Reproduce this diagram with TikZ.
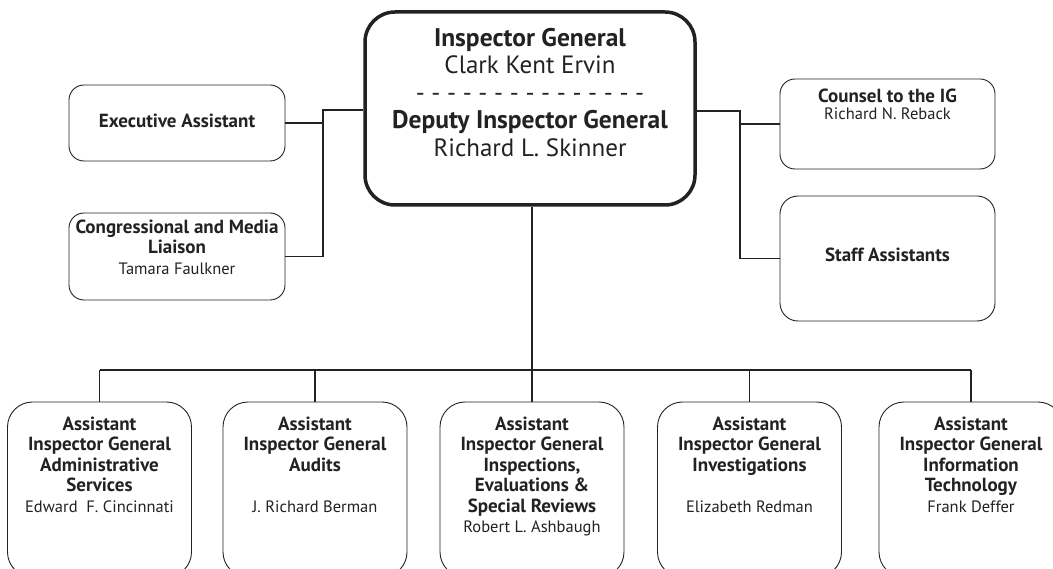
\documentclass[tikz,border=0pt]{standalone}
\usepackage{fontspec}
\setmainfont{PT Sans}
\definecolor{ink}{HTML}{222222}
\newcommand{\nm}[1]{{\fontsize{16.5}{20.5}\selectfont #1}}
\begin{document}
\begin{tikzpicture}[x=1pt,y=-1pt,
  box/.style={draw=ink, line width=0.9pt, rounded corners=15pt, inner sep=0pt},
  lowbox/.style={box, rounded corners=25pt, minimum width=184pt, minimum height=175pt},
  conn/.style={draw=ink, line width=1.6pt},
  txt/.style={inner sep=0pt, align=center, text=ink, anchor=north},
  bigtxt/.style={txt, font=\fontsize{25}{27.5}\selectfont},
  midtxt/.style={txt, font=\fontsize{19}{20.5}\selectfont},
  nametxt/.style={txt, font=\fontsize{16.5}{20.5}\selectfont},
]
\useasboundingbox (0,0) rectangle (1053,569);
\clip (0,0) rectangle (1053,569);
\fill[white] (0,0) rectangle (1053,569);

% main box
\node[box, line width=3.5pt, rounded corners=30pt, minimum width=330pt, minimum height=193pt] (main) at (530,108.5) {};
\node[bigtxt] (maintxt) at (530,27.8) {{\fontsize{25.5}{27.5}\selectfont\bfseries Inspector General}\\Clark Kent Ervin\\- - - - - - - - - - - - - - -\\{\fontsize{25.5}{27.5}\selectfont\bfseries Deputy Inspector General}\\Richard L. Skinner};

% left boxes
\node[box, minimum width=216pt, minimum height=76pt] (exec) at (177,123) {};
\node[midtxt] (exectxt) at (177,113.3) {\textbf{Executive Assistant}};
\node[box, minimum width=216pt, minimum height=87pt] (cong) at (177,256.5) {};
\node[midtxt] (congtxt) at (177,219.3) {\textbf{Congressional and Media}\\\textbf{Liaison}\\\nm{Tamara Faulkner}};

% right boxes
\node[box, minimum width=215pt, minimum height=90pt] (couns) at (887.5,124) {};
\node[midtxt] (counstxt) at (887.5,88.3) {\textbf{Counsel to the IG}};
\node[nametxt] (counsname) at (887.5,107.1) {Richard N. Reback};
\node[box, rounded corners=18pt, minimum width=215pt, minimum height=125pt] (staff) at (887.5,258.5) {};
\node[midtxt] (stafftxt) at (887.5,247.3) {\textbf{Staff Assistants}};

% bottom boxes
\node[lowbox] (b1) at (99.5,489.5) {};
\node[lowbox] (b2) at (315,489.5) {};
\node[lowbox] (b3) at (532,489.5) {};
\node[lowbox] (b4) at (749.5,489.5) {};
\node[lowbox] (b5) at (971,489.5) {};
\node[midtxt] (b1txt) at (99.5,416.3) {\textbf{Assistant}\\\textbf{Inspector General}\\\textbf{Administrative}\\\textbf{Services}\\\nm{Edward\ \ F. Cincinnati}};
\node[midtxt] (b2txt) at (315,416.3) {\textbf{Assistant}\\\textbf{Inspector General}\\\textbf{Audits}\\[20.5pt]\nm{J. Richard Berman}};
\node[midtxt] (b3txt) at (532,416.3) {\textbf{Assistant}\\\textbf{Inspector General}\\\textbf{Inspections,}\\\textbf{Evaluations \&}\\\textbf{Special Reviews}\\\nm{Robert L. Ashbaugh}};
\node[midtxt] (b4txt) at (749.5,416.3) {\textbf{Assistant}\\\textbf{Inspector General}\\\textbf{Investigations}\\[20.5pt]\nm{Elizabeth Redman}};
\node[midtxt] (b5txt) at (971,416.3) {\textbf{Assistant}\\\textbf{Inspector General}\\\textbf{Information}\\\textbf{Technology}\\\nm{Frank Deffer}};

% connectors left
\coordinate (jl) at (323,110);
\draw[conn] (main.west |- jl) -- (jl) -- (jl |- cong.east) -- (cong.east);
\draw[conn] (exec.east) -- (exec.east -| jl);
% connectors right
\coordinate (jr) at (740,111);
\draw[conn] (main.east |- jr) -- (jr) -- (jr |- staff.west) -- (staff.west);
\draw[conn] (couns.west -| jr) -- (couns.west);
% connectors bottom
\coordinate (bar) at (532,370);
\draw[conn] (main.south -| bar) -- (bar);
\draw[conn] (b1.north |- bar) -- (b5.north |- bar);
\foreach \b in {b1,b2,b3,b4,b5} \draw[conn] (\b.north |- bar) -- (\b.north);
\end{tikzpicture}
\end{document}
